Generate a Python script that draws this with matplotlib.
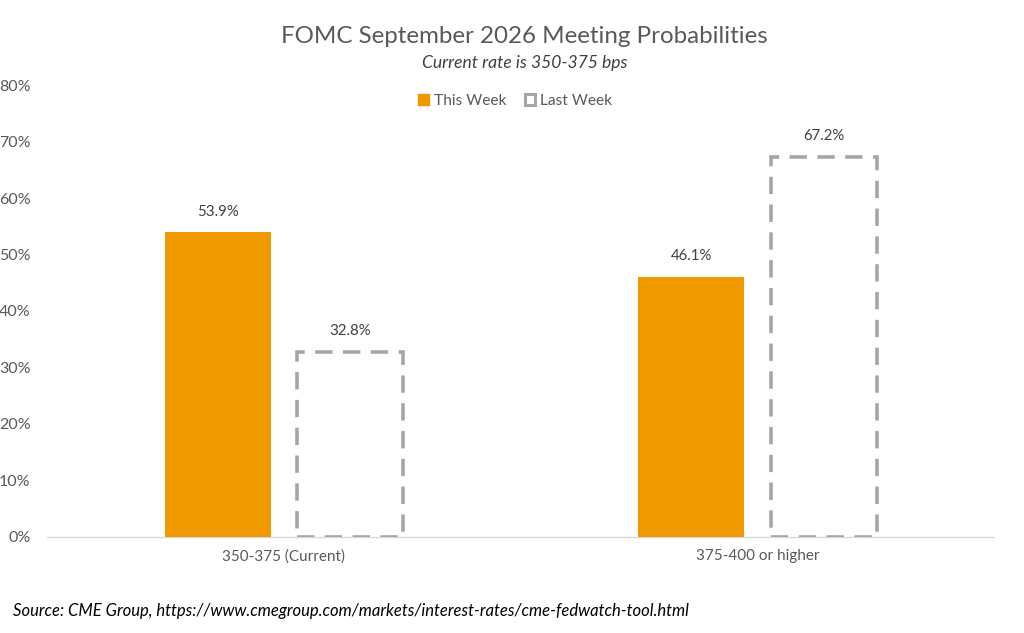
import matplotlib
matplotlib.use("Agg")
import matplotlib.pyplot as plt
import matplotlib.patches as mpatches
import numpy as np

plt.rcParams['font.family'] = ['Lato', 'DejaVu Sans']

categories = ['350-375 (Current)', '375-400 or higher']
this_week = [53.9, 46.1]
last_week = [32.8, 67.2]
y_ticks = [0, 10, 20, 30, 40, 50, 60, 70, 80]

orange = '#F09A00'
grey = '#A6A6A6'
text_col = '#595959'

fig = plt.figure(figsize=(10.24, 6.33), dpi=100)
ax = fig.add_axes([0.046, 0.1517, 0.925, 0.714])

x = np.arange(len(categories))
w = 0.224
off = 0.14

b1 = ax.bar(x - off, this_week, width=w, color=orange, zorder=2)
b2 = ax.bar(x + off, last_week, width=w, facecolor='none', edgecolor=grey,
            linewidth=2.6, linestyle=(0, (4.8, 2.9)), zorder=3)

for bars, vals in [(b1, this_week), (b2, last_week)]:
    for r, v in zip(bars, vals):
        ax.annotate(f'{v:.1f}%', (r.get_x() + r.get_width() / 2, v),
                    xytext=(0, 10), textcoords='offset points',
                    ha='center', va='bottom', fontsize=10.8, color='#404040')

ax.set_xlim(-0.5, 1.5)
ax.set_ylim(0, 80)
ax.set_yticks(y_ticks)
ax.set_yticklabels([f'{t}%' for t in y_ticks])
ax.set_xticks(x)
ax.set_xticklabels(categories)
ax.tick_params(axis='both', length=0, labelcolor=text_col)
ax.tick_params(axis='y', pad=12, labelsize=11.5)
ax.tick_params(axis='x', pad=9, labelsize=11)

for s in ['top', 'right', 'left']:
    ax.spines[s].set_visible(False)
ax.spines['bottom'].set_color('#D9D9D9')
ax.spines['bottom'].set_linewidth(1)
ax.spines['bottom'].set_zorder(1)

fig.text(0.512, 0.943, 'FOMC September 2026 Meeting Probabilities',
         ha='center', va='center', fontsize=17.4, color=text_col)
fig.text(0.512, 0.901, 'Current rate is 350-375 bps', ha='center', va='center',
         fontsize=12.6, style='italic', color='#404040')

h1 = mpatches.Patch(facecolor=orange, edgecolor=orange)
h2 = mpatches.Patch(facecolor='none', edgecolor=grey, linewidth=2.2)
fig.legend([h1, h2], ['This Week', 'Last Week'], loc='center',
           bbox_to_anchor=(0.503, 0.841), ncol=2, frameon=False,
           fontsize=11.2, handlelength=0.7, handleheight=0.7,
           handletextpad=0.3, columnspacing=1.2, labelcolor=text_col)

fig.text(0.013, 0.034,
         'Source: CME Group, https://www.cmegroup.com/markets/interest-rates/cme-fedwatch-tool.html',
         ha='left', va='center', fontsize=12, style='italic', color='#000000')

fig.savefig('out.png', dpi=100)
